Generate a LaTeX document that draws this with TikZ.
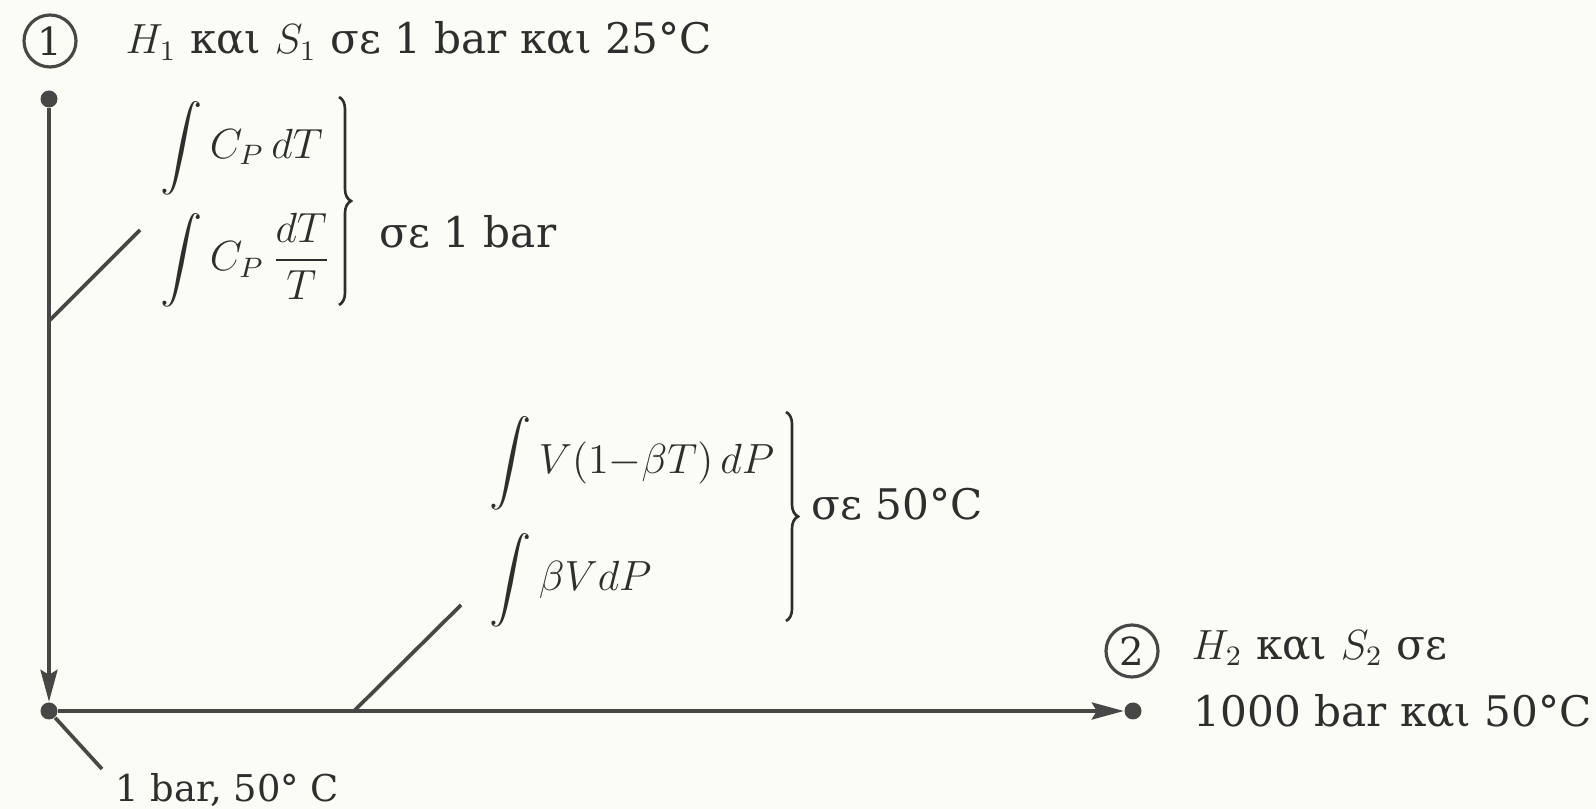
\documentclass[tikz,border=0pt]{standalone}
\usepackage{amsmath}
\usepackage{fontspec}
\setmainfont{DejaVu Serif}
\usetikzlibrary{arrows.meta,positioning,decorations.pathreplacing,calc}
\definecolor{paper}{HTML}{FCFCF6}
\definecolor{inkgray}{HTML}{2E2E2E}
\definecolor{linegray}{HTML}{474747}

\begin{document}
\begin{tikzpicture}[
  lbl/.style={inner sep=0pt, anchor=west, text=inkgray, font=\fontsize{12}{14}\selectfont},
  numc/.style={circle, draw=linegray, line width=0.9pt, minimum size=0.52cm, inner sep=0pt,
    text=inkgray, font=\fontsize{11}{13}\selectfont},
  dot/.style={circle, fill=linegray, minimum size=0.17cm, inner sep=0pt},
  flow/.style={-{Stealth[length=3.2mm,width=1.7mm,inset=0.5mm]}, line width=1.05pt, linegray},
  lead/.style={line width=1.05pt, linegray},
  brc/.style={decorate, decoration={brace, amplitude=0.12cm}, line width=0.75pt, inkgray}
]
\useasboundingbox[fill=paper] (0,0) rectangle (15.96,-8.09);

%=== STATES ===
\node[numc] (n1) at (0.50,-0.41) {1};
\node[dot]  (s1) at (0.49,-0.99) {};
\node[dot]  (m)  at (0.49,-7.11) {};
\node[dot]  (s2) at (11.33,-7.11) {};
\node[numc] (n2) at (11.32,-6.51) {2};

%=== STATE LABELS ===
\node[lbl] (h1) at (1.25,-0.41) {$H_1$ και $S_1$ σε 1 bar και 25°C};
\node[lbl] (h2) at (11.91,-6.48) {$H_2$ και $S_2$ σε};
\node[lbl] (p2) at (11.93,-7.11) {1000 bar και 50°C};
\node[lbl, font=\fontsize{10.5}{12}\selectfont] (pm) at (1.15,-7.90) {1 bar, 50° C};

%=== INTEGRALS AT 1 BAR ===
\node[lbl] (i1) at (1.60,-1.48) {$\displaystyle\int C_P\,dT$};
\node[lbl] (i2) at (1.60,-2.60) {$\displaystyle\int C_P\,\frac{dT}{T}$};
\draw[brc] (3.39,-0.97) -- (3.39,-3.05);
\node[lbl] (b1) at (3.79,-2.32) {σε 1 bar};

%=== INTEGRALS AT 50 C ===
\node[lbl] (i3) at (4.89,-4.63) {$\displaystyle\int V(1{-}\beta T)\,dP$};
\node[lbl] (i4) at (4.89,-5.80) {$\displaystyle\int \beta V dP$};
\draw[brc] (7.86,-4.12) -- (7.86,-6.21);
\node[lbl] (b2) at (8.11,-5.04) {σε 50°C};

%=== PATH ===
\draw[flow] (s1) -- (m);
\draw[flow] (m) -- (s2);

%=== LEADERS ===
\coordinate (k1) at (0.49,-3.21);
\coordinate (k1e) at (1.40,-2.30);
\coordinate (k2) at (3.54,-7.11);
\coordinate (k2e) at (4.61,-6.05);
\coordinate (k3e) at (1.02,-7.69);
\draw[lead] (k1) -- (k1e);
\draw[lead] (k2) -- (k2e);
\draw[lead] (m) -- (k3e);

\end{tikzpicture}
\end{document}
